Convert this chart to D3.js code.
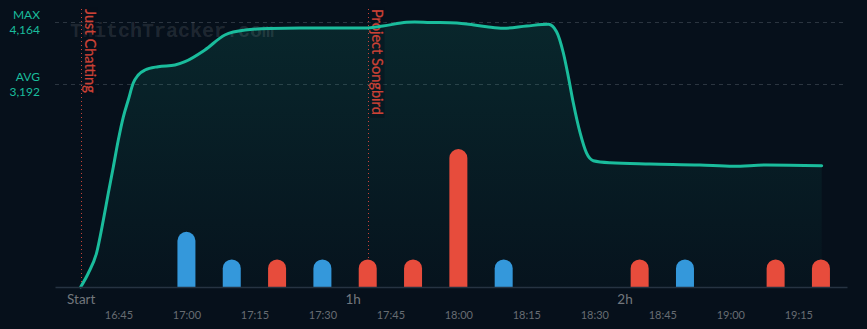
<!DOCTYPE html>
<html>
<head>
<meta charset="utf-8">
<script src="https://cdn.jsdelivr.net/npm/d3@7"></script>
<style>
  html, body { margin: 0; padding: 0; background: #06101b; }
  svg { display: block; }
</style>
</head>
<body>
<svg id="chart" width="867" height="329"></svg>
<script>
// ---------- DATA ----------
const streamStart = "16:36:40";
// viewer series: minutes since stream start, viewers
const viewerMinutes = [0, 1.7, 3.5, 5.0, 6.1, 7.2, 8.3, 9.4, 10.5, 11.6, 12.7, 14.2, 17.1, 20.8, 23.0, 27.4, 31.8, 36.3, 41.8, 48.4, 57.2, 62.7, 66.7, 71.9, 73.7, 77.1, 81.5, 85.2, 89.6, 93.2, 98.4, 103.2, 105.0, 106.5, 107.6, 108.7, 110.2, 111.6, 113.1, 116.8, 125.6, 136.6, 144.0, 151.3, 163.5];
const viewerCounts  = [0, 220, 534, 1053, 1477, 1886, 2310, 2671, 2938, 3205, 3331, 3410, 3462, 3488, 3540, 3724, 3960, 4038, 4062, 4070, 4070, 4070, 4101, 4159, 4164, 4156, 4153, 4133, 4090, 4065, 4101, 4128, 4012, 3677, 3304, 2891, 2420, 2106, 1985, 1953, 1933, 1917, 1897, 1917, 1906];
const maxViewers = 4164;
const avgViewers = 3192;
// activity bars (clock time, count, type)
const barTimes  = ["17:00", "17:10", "17:20", "17:30", "17:40", "17:50", "18:00", "18:10", "18:40", "18:50", "19:10", "19:20"];
const barValues = [2, 1, 1, 1, 1, 1, 5, 1, 1, 1, 1, 1];
const barTypes  = ["blue", "blue", "red", "blue", "red", "red", "red", "blue", "red", "blue", "red", "red"];
// game change markers
const gameTimes = ["16:36:40", "17:40"];
const gameNames = ["Just Chatting", "Project Songbird"];
// axis ticks
const elapsedTickMinutes = [0, 60, 120];
const elapsedTickLabels  = ["Start", "1h", "2h"];
const clockTicks = ["16:45", "17:00", "17:15", "17:30", "17:45", "18:00", "18:15", "18:30", "18:45", "19:00", "19:15"];
const axisStart = "16:31:00";
const axisEnd   = "19:25:45";

// ---------- HELPERS ----------
function toDate(s) {
  const p = s.split(":").map(Number);
  return new Date(2020, 0, 1, p[0], p[1], p[2] || 0);
}
const startDate = toDate(streamStart);
const addMin = m => new Date(startDate.getTime() + m * 60000);

const svg = d3.select("#chart");
const W = 867, H = 329;

const x = d3.scaleTime().domain([toDate(axisStart), toDate(axisEnd)]).range([55, 847]);
const y = d3.scaleLinear().domain([0, maxViewers]).range([287, 22]);
const barH = d3.scaleLinear().domain([0, 5]).range([0, 138]);
const colorOf = { blue: "#3498db", red: "#e74c3c" };

const defs = svg.append("defs");
const grad = defs.append("linearGradient").attr("id", "areaGrad")
  .attr("x1", 0).attr("y1", 0).attr("x2", 0).attr("y2", 1);
grad.append("stop").attr("offset", "0%").attr("stop-color", "#1abc9c").attr("stop-opacity", 0.13);
grad.append("stop").attr("offset", "100%").attr("stop-color", "#1abc9c").attr("stop-opacity", 0.02);

svg.append("rect").attr("width", W).attr("height", H).attr("fill", "#06101b");

// grid lines for max / avg
[maxViewers, avgViewers].forEach(v => {
  svg.append("line")
    .attr("x1", 55).attr("x2", 847)
    .attr("y1", Math.round(y(v)) + 0.5).attr("y2", Math.round(y(v)) + 0.5)
    .attr("stroke", "#2b3540").attr("stroke-width", 1)
    .attr("stroke-dasharray", "4,4");
});

// max / avg labels
const labelG = svg.append("g").attr("font-family", "Lato, sans-serif").attr("font-size", 12)
  .attr("fill", "#1abc9c").attr("text-anchor", "end");
labelG.append("text").attr("x", 40).attr("y", 19).text("MAX");
labelG.append("text").attr("x", 40).attr("y", 34).text(d3.format(",")(maxViewers));
labelG.append("text").attr("x", 40).attr("y", 81).text("AVG");
labelG.append("text").attr("x", 40).attr("y", 96).text(d3.format(",")(avgViewers));

// viewers area + line
const pts = viewerMinutes.map((m, i) => ({ t: addMin(m), v: viewerCounts[i] }));
const area = d3.area().curve(d3.curveMonotoneX)
  .x(d => x(d.t)).y0(y(0)).y1(d => y(d.v));
const line = d3.line().curve(d3.curveMonotoneX)
  .x(d => x(d.t)).y(d => y(d.v));
svg.append("path").datum(pts).attr("d", area).attr("fill", "url(#areaGrad)");

// watermark
svg.append("text")
  .attr("x", 70).attr("y", 37)
  .attr("font-family", "'Liberation Mono', 'DejaVu Sans Mono', monospace")
  .attr("font-weight", "bold").attr("font-size", 20)
  .attr("fill", "#ffffff").attr("fill-opacity", 0.11)
  .text("TwitchTracker.com");

// bars
const bars = barTimes.map((t, i) => ({ t: toDate(t), v: barValues[i], c: colorOf[barTypes[i]] }));
const bw = 18, r = 9;
svg.append("g").selectAll("path").data(bars).join("path")
  .attr("fill", d => d.c)
  .attr("d", d => {
    const cx = x(d.t), x0 = cx - bw / 2, x1 = cx + bw / 2;
    const yb = y(0), yt = yb - barH(d.v);
    return `M${x0},${yb} L${x0},${yt + r} A${r},${r} 0 0 1 ${x1},${yt + r} L${x1},${yb} Z`;
  });

// game markers
gameTimes.forEach((t, i) => {
  const gx = Math.round(x(toDate(t))) + 0.5;
  const bg = svg.append("rect").attr("fill", "#06101b").attr("fill-opacity", 0.45);
  svg.append("line")
    .attr("x1", gx).attr("x2", gx).attr("y1", 9).attr("y2", y(0))
    .attr("stroke", "#e74c3c").attr("stroke-opacity", 0.85)
    .attr("stroke-width", 1).attr("stroke-dasharray", "1,3");
  const txt = svg.append("text")
    .attr("transform", `translate(${gx + 3.5},9) rotate(90)`)
    .attr("font-family", "Lato, sans-serif").attr("font-size", 14.6)
    .attr("fill", "#cc4236").attr("stroke", "#cc4236").attr("stroke-width", 0.25)
    .text(gameNames[i]);
  const len = txt.node().getComputedTextLength();
  bg.attr("x", gx + 1).attr("y", 7).attr("width", 15).attr("height", len + 5);
});

svg.append("path").datum(pts).attr("d", line)
  .attr("fill", "none").attr("stroke", "#1abc9c").attr("stroke-width", 3)
  .attr("stroke-linecap", "round").attr("stroke-linejoin", "round");

// axes
const elapsedAxis = d3.axisBottom(x)
  .tickValues(elapsedTickMinutes.map(addMin))
  .tickFormat((d, i) => elapsedTickLabels[i])
  .tickSize(0).tickSizeOuter(0);
const gA = svg.append("g").attr("transform", `translate(0,${y(0)})`).call(elapsedAxis);
gA.select(".domain").attr("stroke", "#263342").attr("stroke-width", 1.5);
gA.selectAll("text").attr("y", 17).attr("dy", 0)
  .attr("font-family", "Lato, sans-serif").attr("font-size", 13.5).attr("fill", "#72777d");

const clockAxis = d3.axisBottom(x)
  .tickValues(clockTicks.map(toDate))
  .tickFormat(d3.timeFormat("%H:%M"))
  .tickSize(0).tickSizeOuter(0);
const gC = svg.append("g").attr("transform", `translate(0,${y(0)})`).call(clockAxis);
gC.select(".domain").remove();
gC.selectAll("text").attr("y", 32).attr("dy", 0)
  .attr("font-family", "Lato, sans-serif").attr("font-size", 11).attr("fill", "#676c72");
</script>
</body>
</html>
